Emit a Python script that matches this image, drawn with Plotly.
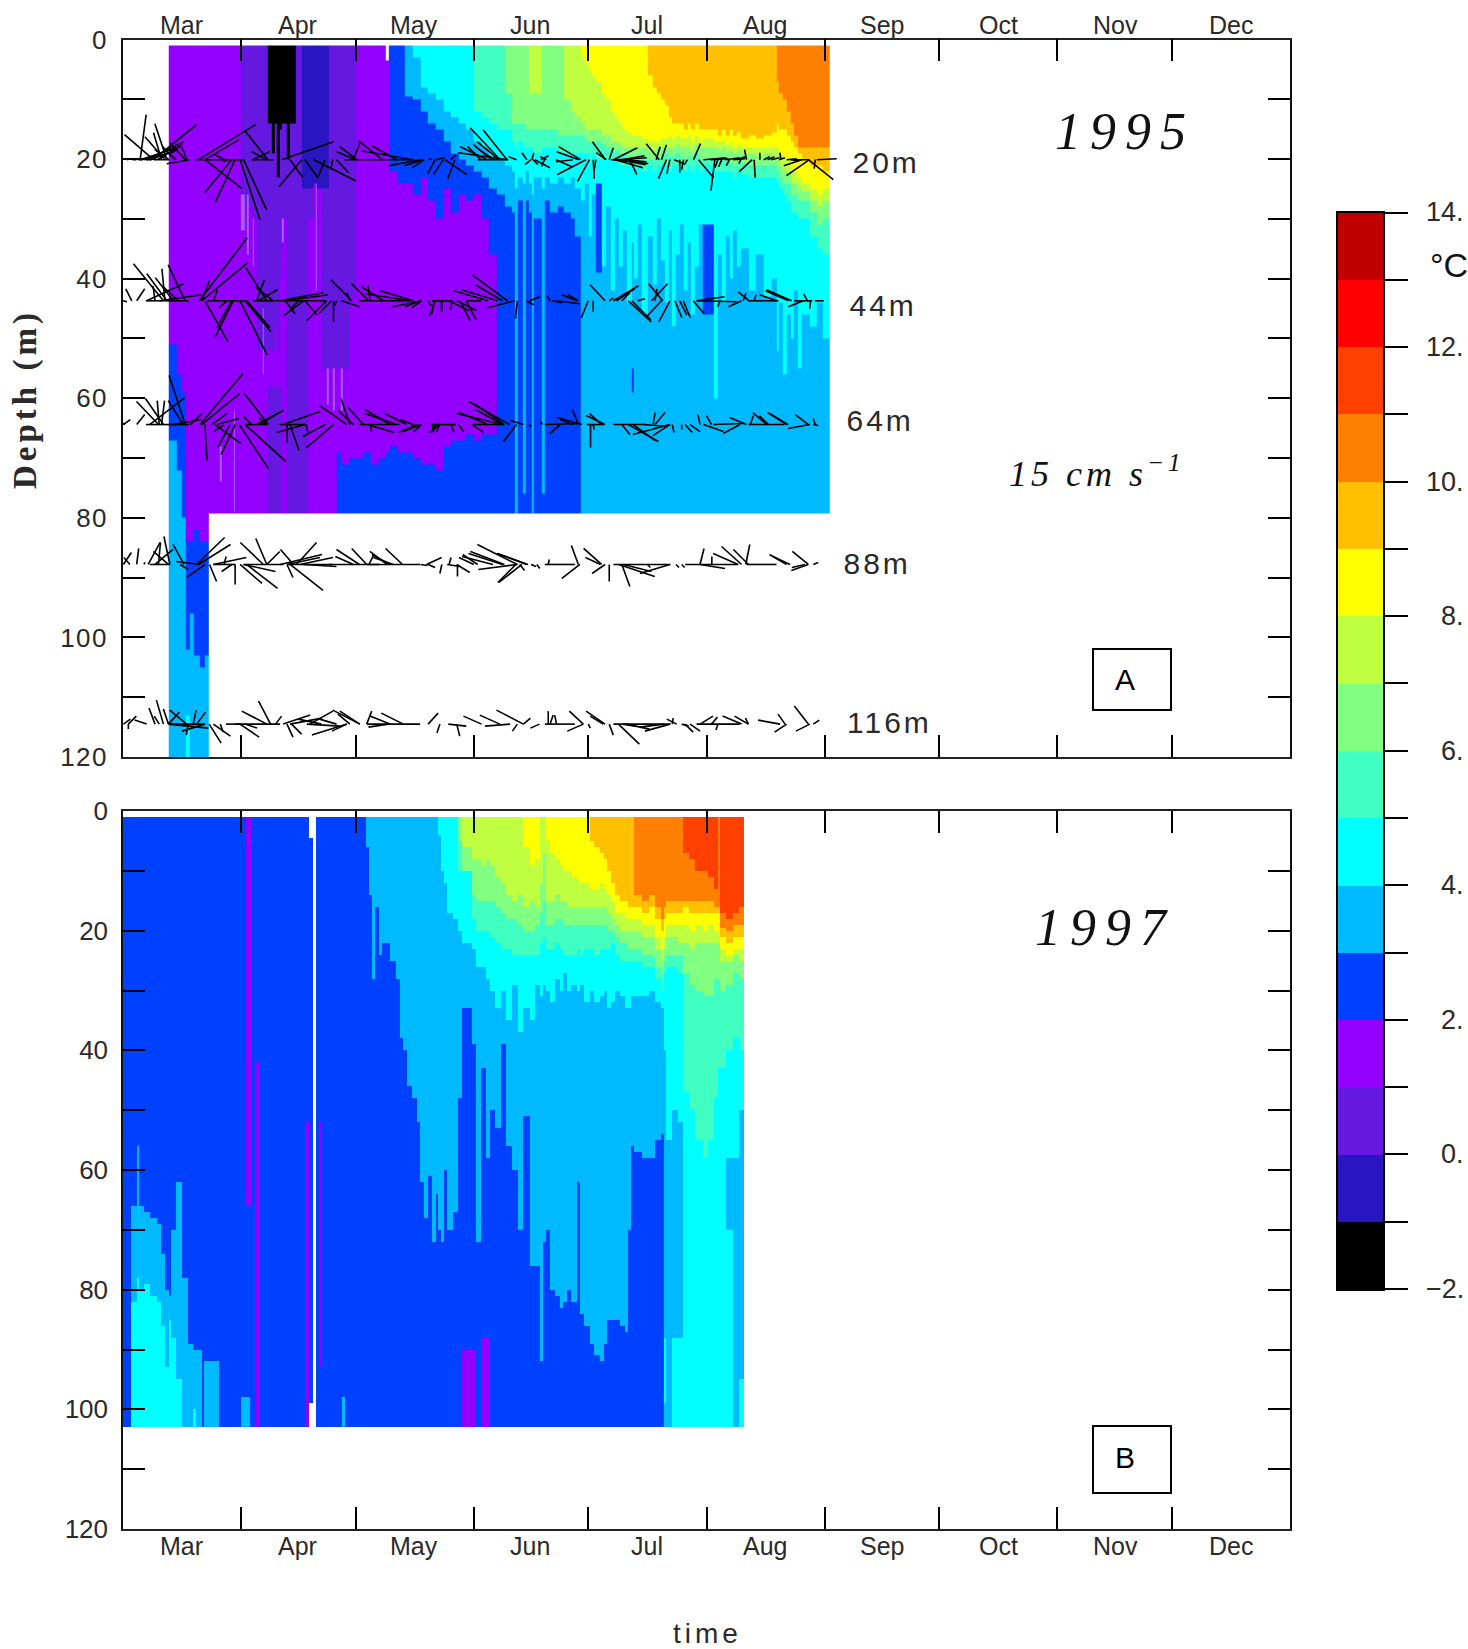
import numpy as np
import plotly.graph_objects as go

W, H = 1468, 1649

MONTHS = ["Mar", "Apr", "May", "Jun", "Jul", "Aug", "Sep", "Oct", "Nov", "Dec"]
MONTH_EDGES = [0, 31, 61, 92, 122, 153, 184, 214, 245, 275, 306]
MONTH_LABEL_DAYS = [15.45, 45.8, 76.4, 106.8, 137.4, 168.3, 199, 229.6, 260.2, 290.6]
DEPTH_MAJOR = [0, 20, 40, 60, 80, 100, 120]
DEPTH_MINOR = [10, 30, 50, 70, 90, 110]
TEMP_EDGES = list(range(-2, 15))
TEMP_TICK_LABELS = {14: "14.", 12: "12.", 10: "10.", 8: "8.", 6: "6.", 4: "4.", 2: "2.", 0: "0.", -2: "\u22122."}
CLASS_COLORS = ["#000000", "#2a16c0", "#6519e0", "#9400ff", "#0040ff", "#00baff", "#00ffff", "#40ffc0",
                "#80ff80", "#c0ff40", "#ffff00", "#ffc000", "#ff8000", "#ff4000", "#ff0000", "#c00000",
                "#a85cf5"]

# temperature columns: (start day after 1 Mar, "class:bottom depth ..."), last band without depth runs to the record's end
A_TOP, A_BOTTOM, A_END = 0.9, 79.3, 185.2
A_COLS = [
(12,"3:51 4:67 5:120"),(14,"3:56 4:72 5:120"),(15.5,"3:59 4:80 5:120"),(16.5,"3:84 4:102 5:113 6:120"),
(17.5,"3:84 4:96 5:120"),(18.5,"3:82 4:103 5:120"),(20,"3:84 4:105 5:120"),(21.5,"3:84 4:103 5:120"),
(22.6,"3"),(25.5,"3:68 f:74 3"),(25.8,"3"),(29,"3:62 f:79 3"),(29.3,"3"),
(31,"2:26 f:32 3"),(32,"2:28 3"),(32.4,"2:26 f:36 3"),(33,"2:28 3"),(34,"2:30 f:38 3"),(34.4,"2:30 3"),
(35,"2:52 3"),(36.6,"2:45 f:56 3"),(37,"2:52 3"),(38,"0:14 2:52 3:58 2"),(39,"0:19 2:52 3:58 2"),(39.7,"0:14 2:48 3:58 2"),(40.4,"0:23 2:52 3:58 2"),
(41.2,"0:15 2:40 3:58 2"),(41.7,"0:14 2:30 f:34 3"),(42.2,"0:14 2:30 3"),(43,"0:20 2"),(43.8,"0:14 2"),(45.2,"2"),
(47,"1:25 2"),(48.5,"1:25 2:30 3"),(50,"1:24 3"),(50.5,"1:24 f:42 3"),(50.9,"1:25 3"),
(52,"1:25 2:55 3"),(53.5,"1:25 2:55 f:61 3"),(53.9,"2:55 3"),(55.1,"2:55 f:62 3"),(55.5,"2:55 3"),
(56,"2:55 3:69 4"),(57.2,"2:55 f:62 3:71 4"),(57.6,"2:55 3:71 4"),(59.5,"2:43 3:70 4"),(61,"3:70 4"),(63,"3:69 4"),(65,"3:71 4"),(67,"3:70 4"),(68.9,"x:3.5 3:69 4"),(69.6,"3:69 4"),
(70,"4:22 3:68 4"),(72,"4:24 3:69 4"),(74,"5:9.5 4:24 3:69 4"),(76,"6:3 5:10 4:26 3:70 4"),(78,"6:8 5:12 4:23 3:71 4"),
(80,"6:9 5:14 4:27 3:71 4"),(82,"6:10 5:15 4:30 3:72 4"),(84,"6:12 5:17 4:25 3:68 4"),(86,"6:13 5:19 4:29 3:67 4"),
(88,"6:14 5:20 4:26 3:67 4"),(90,"6:15 5:21 4:27 3:66 4"),(92,"7:12 6:17 5:22 4:26 3:67 4"),(94,"7:13 6:18 5:23 4:30 3:66 4"),
(96,"7:14 6:20 5:25 4:36 3:66 4"),(98,"7:15 6:20 5:26 4"),(100,"8:9 7:15 6:21 5:28 4"),(102,"8:14 7:17 6:22 5:29 4"),
(102.7,"8:14 7:18 6:25 5"),(103.4,"8:14 7:17 6:23 5:27 4"),(104.9,"8:14 7:18 6:24 5:76 4"),(105.6,"8:15 7:18 6:22 5:27 4"),
(106.5,"9:9 8:15 7:18 6:24 5:29 4"),(107.1,"9:9 8:15 7:18 6:26 5"),(107.7,"9:9 8:15 7:19 6:23 5:30 4"),(109.9,"8:15 7:18 6:25 5:76 4"),
(110.5,"8:15 7:18 6:23 5:27 4"),(112,"8:15 7:18 6:24 5:29 4"),(114,"8:16 7:19 6:23 5:28 4"),(115.5,"9:10 8:16 7:19 6:24 5:29 4"),
(117.5,"9:12 8:16 7:19 6:23 5:30 4"),(118.5,"9:13 8:16 7:19 6:25 5:33 4"),(119.9,"10:3 9:14 8:16 7:19 6:27 5"),
(121,"10:4 9:15 8:17 7:19 6:24 5"),(122,"10:5 9:15 8:17 7:20 6:33 5"),(123,"10:6 9:15 8:17 7:19 6:26 5"),
(124,"10:7 9:15 8:17 7:20 6:24 4:39 5"),(125.5,"10:9 9:16 8:17.5 7:20 6:38 5"),(126.5,"10:10 9:16 8:18 7:20 6:28 5"),
(128,"10:12 9:17 8:18.5 7:20 6:42 5"),(129,"10:13 9:17 8:18.5 7:20 6:30 5"),(130,"10:14 9:17.5 8:19 7:21 6:38 5"),
(131,"10:15 9:18 8:19 7:21 6:32 5"),(132,"10:15.5 9:18 8:19.5 7:21 6:44 5"),(133.3,"10:16 9:18 8:19.5 7:21 6:34 5:55 4:59 5"),
(134,"10:16 9:18 8:20 7:21.5 6:40 5"),(135,"10:16 9:18 8:20 7:21 6:31 5"),(136,"10:16.5 9:18 8:20 7:22 6:46 5"),
(137.6,"11:6 10:17 9:18.5 8:20 7:21 6:33 5"),(139,"11:8 10:17 9:18.5 8:20 7:22 6:41 5"),(140,"11:9 10:17 9:18 8:20 7:21 6:30 5"),
(141,"11:10 10:16.5 9:18 8:19.5 7:21 6:37 5"),(142,"11:11 10:16.5 9:18 8:19 7:21 6:44 5"),(143,"11:13 10:16 9:18 8:19.5 7:22 6:32 5"),
(144,"11:14 10:16.5 9:18 8:19.5 7:21 6:48 5"),(145,"11:14 10:16 9:17.5 8:19 7:21 6:36 5"),(146,"11:14 10:16.5 9:18 8:19.5 7:21 6:31 5"),
(147,"11:15 10:16.5 9:18 8:20 7:22 6:42 5"),(148,"11:14 10:16 9:18 8:19.5 7:21 6:34 5"),(149,"11:15 10:17 9:18.5 8:20 7:22 6:46 5"),
(150,"11:14 10:16 9:17.5 8:19 7:21 6:38 5"),(151,"11:15 10:17 9:18 8:20 7:22 6:31 5"),(152,"11:15 10:16.5 9:18 8:20 7:21 6:31 4:46 5"),
(155,"11:15 10:17 9:18 8:20 7:22 6:60 5"),(156,"11:16 10:17 9:18.5 8:20 7:22 6:36 5"),(157,"11:15 10:17 9:18 8:20 7:22 6:44 5"),
(158,"11:16 10:17.5 9:18.5 8:20 7:22 6:33 5"),(159,"11:15 10:17 9:18.5 8:20.5 7:22 6:40 5"),(160,"11:16 10:18 9:19 8:21 7:23 6:32 5"),
(161,"11:15.5 10:17.5 9:18.5 8:20.5 7:22 6:38 5"),(162,"11:16.5 10:18 9:19 8:20.7 7:22.4 6:35 5"),(164,"11:16 10:18 9:19 8:21 7:23 6:42 5"),
(166,"11:16.5 10:18 9:19.5 8:21 7:23 6:36 5"),(168,"11:16 10:18 9:19 8:21 7:23 6:43 5"),(170,"11:15.5 10:18 9:19.5 8:21 7:23 6:40 5"),
(171.3,"12:7 11:14 10:18 9:20 8:22 7:24 6:52 5"),(172,"12:9 11:15 10:19 9:21 8:23 7:25 6:44 5"),(173,"12:10 11:15 10:20 9:22 8:24 7:26 6:56 5"),
(174,"12:12 11:16 10:20 9:22 8:24 7:27 6:46 5"),(175,"12:14 11:17 10:22 9:24 8:26 7:29 6:50 5"),(176,"12:16 11:18 10:22 9:24 8:26 7:29 6:42 5"),
(177,"12:18 11:19 10:23 9:25 8:27 7:30 6:55 5"),(178,"12:18 11:20 10:24 9:25.5 8:27 7:30 6:46 5"),(180,"12:18 11:21 10:25 9:27 8:29 7:33 6:48 5"),
(182,"12:18 11:21 10:26 9:28 8:31 7:35 6:44 5"),(183.5,"12:18 11:22 10:25 9:27 8:30 7:36 6:50 5"),
]
B_TOP, B_BOTTOM, B_END = 1.1, 103, 162.9
B_COLS = [
(0,"4"),(2.2,"4:66 5:82 6"),(3.6,"4:56 5:78 6"),(4.2,"4:66 5:80 6"),(5.5,"4:67 5:79 6"),(7,"4:68 5:81 6"),(8.8,"4:69 5:82 6"),
(10,"4:74 5:86 6"),(11,"4:80 5:93 6"),(12,"4:81 5:85 6"),(12.7,"4:70 5:88 6"),(14,"4:62 5:95 6"),(15.6,"4:78 5"),(17,"4:89 5"),
(18.4,"4:90 5:100 6"),(19.2,"4:90 5"),(20.7,"4"),(21.3,"4:92 5"),(25.2,"4"),(31,"4:98 5"),(32.3,"3:66 4:98 5"),(33.2,"3:66 4"),
(33.7,"4"),(34.7,"4:42 3"),(36,"4"),(47.6,"4:52 3"),(48.9,"x:4.5 4:99 x"),(49.7,"x"),(50.5,"4"),(51.4,"4:52 3:93 4"),(52,"4"),
(57.3,"4:98 5"),(58.2,"4"),(63.7,"5:6 4"),(64.5,"5:14 4"),(65.3,"5:28 4"),(66,"5:16 4"),(67,"5:24 4"),(68,"5:22 4"),(70,"5:25 4"),
(71.5,"5:28 4"),(72.5,"5:38 4"),(73.5,"5:40 4"),(74.5,"5:46 4"),(75.9,"5:48 4"),(77,"5:52 4"),(78,"5:62 4"),(79,"5:68 4"),(80,"5:61 4"),
(81,"5:72 4"),(82,"5:64 4"),(82.7,"6:4 5:70 4"),(83.5,"6:10 5:72 4"),(84.2,"6:12 5:60 4"),(85,"6:17 5:70 4"),(86.5,"6:18 5:67 4"),
(87.8,"8:5 7:10 6:20 5:48 4"),(89,"9:6 8:10 6:22 5:33 4:90 3"),(91.5,"9:8 8:14 7:18 6:23 5:39 4:90 3"),(92.6,"9:8 8:15 7:20 6:26 5:72 4"),
(94,"9:9 8:15 7:20 6:26 5:43 4:88 3"),(95.2,"9:8 8:15 7:20 6:28 5:58 4:88 3"),(96.3,"9:9 8:15 7:21 6:30 5:50 4"),(97.5,"9:11 8:16 7:22 6:33 5:53 4"),
(99,"9:12 8:17 7:23 6:30 5:39 4"),(100.5,"9:14 8:18 7:23 6:35 5:56 4"),(102,"9:15 8:18 7:24 6:29 5:60 4"),(103.5,"9:14 8:19 7:24 6:37 5:70 4"),
(105,"10:6 9:16 8:20 7:24 6:33 5:51 4"),(106.7,"10:9 9:15 8:20 7:24 6:35 5:76 4"),(108,"10:8 9:16 8:19 7:24 6:29 5:76 4"),
(109.4,"9:12 8:17 7:22 6:31 5:92 4"),(110.2,"9:7 8:15 7:21 6:29 5:72 4"),(111,"10:5 9:15 8:19 7:23 6:30 5:70 4"),(112,"10:7 9:15 8:19 7:23 6:32 5:80 4"),
(113.4,"10:8 9:14 8:18 7:22 6:28 5:81 4"),(114.5,"10:9 9:15 8:18 7:23 6:30 5:83 4"),(115.5,"10:10 9:15 8:19 7:24 6:27 5:82 4"),(116.5,"10:10 9:16 8:19 7:24 6:30 5:80 4"),
(117.5,"10:11 9:16 8:19 7:24 6:29 5:82 4"),(119,"10:11.5 9:16 8:19 7:23 6:30 5:62 4"),(119.7,"10:12 9:16 8:19 7:24 6:29 5:84 4"),(121,"10:12 9:16 8:19 7:23 6:32 5:86 4"),
(122.5,"11:5 10:13 9:16 8:19 7:23 6:30 5:89 4"),(123.5,"11:6 10:13 9:16 8:19 7:24 6:32 5:91 4"),(125,"11:7 10:12 9:16 8:19 7:23 6:31 5:92 4"),(126,"11:8 10:13 9:16 8:19 7:23 6:30 5:89 4"),
(127,"11:10 10:14 9:17 8:20 7:23 6:33 5:85 4"),(128,"11:12 10:15 9:18 8:20 7:22 6:32 5:85 4"),(129,"11:14 10:17 9:19 8:21 7:24 6:30 5:85 4"),(130.4,"11:15 10:17 9:20 8:22 7:25 6:31 5:86 4"),
(131.5,"11:15 10:18 9:20 8:22 7:25 6:33 5:87 4"),(132.5,"11:16 10:18 9:20 8:23 7:25 6:33 5:70 4"),(133.3,"11:16 10:18 9:20 8:23 7:25 6:31 5:56 4"),
(134,"12:14 11:16 10:18 9:20 8:23 7:25 6:31 5:57 4"),(136,"12:15 11:17 10:19 9:21 8:24 7:26 6:31 5:58 4"),(138,"12:14 11:16 10:19 9:21 8:24 7:26 6:30 5:58 4"),
(139.5,"12:16 11:18 10:21 9:23 8:26 7:28 6:32 5:55 4"),(141,"12:18 11:20 10:23 9:25 8:27 7:30 6:33 5:54 4"),(141.8,"12:16 11:18 10:21 9:23 8:25 7:27 6:40 5:88 6:99 5"),
(142.5,"12:15 11:17 10:19 9:21 8:24 7:26 6:55 5"),(144,"12:15 11:17 10:19 9:21 8:24 7:26 6:50 5:88 6"),(145.5,"12:15 11:17 10:19 9:22 8:24 7:27 6:52 5:88 6"),
(146.9,"13:7 12:15 11:16 10:19 9:22 8:27 7:47 6"),(148.5,"13:8 12:15 11:17 10:20 9:23 8:29 7:50 6"),(150,"13:10 12:15 11:17 10:19 9:22 8:30 7:55 6"),
(152,"13:10 12:15 11:17 10:20 9:22 8:31 7:58 6"),(153.5,"13:11 12:15 11:17 10:19 9:22 8:31 7:55 6"),(155,"13:13 12:16 11:17 10:20 9:22 8:28 7:48 6"),
(156,"12:16 11:17 10:20 9:22 8:28 7:43 6"),(156.6,"13:17 12:19.5 11:21 10:23 9:25 8:30 7:43 6"),(158,"13:18 12:20 11:22 10:24 9:25 8:29 7:40 6:58 5:70 6"),
(160,"13:17 12:19 11:21 10:23 9:24 8:27 7:38 6:58 5"),(161.5,"13:16 12:19 11:21 10:23 9:25 8:28 7:40 6:50 5:95 6"),
]

# current sticks at each meter: (day after 1 Mar, u, v), speed units
STICK_DEPTHS = {"20m": 20.1, "44m": 43.7, "64m": 64.4, "88m": 87.8, "116m": 114.5}
LABEL_PX = {"20m": (886, 163), "44m": (883, 305), "64m": (880, 421), "88m": (877, 563), "116m": (889, 722)}
STICKS_20 = [
(1,4,1),(2.5,4,0),(4,5,0),(6,6,0),(8,8,0),(10,8,0),(4.5,6,45),(8,-29,25),(11.5,-12,36),(10.1,-8,27),(11,-20,23),(8,43,35),(6.2,37,18),(4.5,40,13),
(16.3,-15,17),(16.7,-5,13),(17.5,-23,-4),(13.6,-12,13),(9,25,15),(7,28,10),(5.5,30,8),(12,-14,10),(14,-10,8),(19.8,57,35),(21.5,34,20),(26.7,-10,5),
(27.5,-5,-2),(21.5,37,-29),(28.5,-27,-33),(29.4,-20,-43),(30.7,20,-60),(31.6,23,-50),(38,-23,29),(37.7,-15,8),(34,17,8),(19,48,0),(33.8,22,0),(41.6,52,18),
(46.9,-23,-27),(43.8,13,-18),(47.7,13,-18),(53,-7,-17),(50,42,-21),(56,12,-13),(55,-2,-10),(68,-24,19),(61,-19,8),(61.3,-17,13),(60.4,7,18),(71.8,-25,14),
(76,-52,9),(78,-32,-6),(78.5,-18,-6),(79,-12,-8),(58,70,0),(81.8,-7,-14),(84,-10,-15),(82,9,2),(80,4,1),(87,-7,-19),(84.4,22,-15),(86,5,5),(98.9,-30,32),
(100.7,-24,30),(98.6,-22,18),(95.5,-27,13),(101,-50,7),(93.8,-13,13),(96.6,-18,15),(97.5,-16,10),(93,30,0),(103.2,-8,3),(105.9,-5,7),(107,-6,-5),(107.2,2,7),
(107.5,5,-5),(108,15,-8),(110.5,-3,-7),(109.5,8,4),(111,-6,3),(120,-22,13),(119.5,-22,8),(118,-17,-2),(113.5,16,-7),(121.4,-29,-15),(122.3,-12,-22),(123.3,1,-19),
(124,-2,-12),(126.5,-13,18),(126.7,-10,7),(127.5,4,12),(128.6,24,12),(128,33,-3),(129,28,-8),(129.5,30,2),(130,27,-5),(131,22,4),(132,20,-2),(133,18,-4),(132.9,7,-15),
(140.6,-13,16),(139.8,4,13),(141.2,5,15),(142.5,-8,-19),(143.4,-3,-14),(146,0,-13),(147,-2,-10),(144.5,10,-4),(148,-3,-5),(149.6,7,16),(155.2,-4,-31),(150.9,15,-18),
(152.2,23,2),(154,18,1),(156,-3,-8),(157,-3,-7),(158,14,2),(159,-3,-6),(160,12,1),(161,8,3),(162,-2,-4),(163.5,-2,10),(165,-13,-12),(165.5,1,-18),(167,0,7),(168,6,3),
(169,7,3),(170,8,2),(172,6,2),(172.5,-1,7),(174,10,1),(175,8,-1),(176,15,0),(178,-18,-6),(180,-23,-16),(179.7,25,-20),(181.9,20,1),(181.5,-1,-9),
]
STICKS_44 = [
(0,4,-1),(2.3,-6,12),(3.6,8,12),(10.6,-30,37),(11.5,-20,27),(11,-3,32),(13.2,-18,23),(16.3,-17,36),(8.4,-2,15),(6.2,37,17),(9.7,42,6),(14.5,-15,14),(6,30,0),(12,20,0),
(20,48,63),(20.6,46,38),(20.6,8,20),(23.7,4,11),(22,40,0),(21.5,23,-41),(28.9,-18,-36),(28.5,-15,-27),(27.2,-8,-7),(30.7,27,-54),(32,26,-31),(32.5,23,-27),(37.7,-21,33),
(35,8,21),(35.5,19,11),(39.4,-18,14),(34,22,0),(41.2,43,8),(42.5,43,6),(47.3,-20,-15),(42.5,10,-13),(46,-7,-7),(53.4,-20,-20),(47.7,12,-14),(54.7,-13,-13),(55.2,0,-21),
(56,-2,-5),(40,50,0),(60,-21,21),(64.4,-17,17),(59.5,-3,8),(57.3,18,-6),(68.3,-22,14),(64.8,-2,15),(76.1,-33,10),(75.3,-45,7),(78.3,-29,-6),(77.9,-15,-6),(78.3,-10,-7),
(62,50,0),(81.8,-5,-15),(80,3,-5),(83.5,0,-11),(86.4,-2,-9),(88.4,10,-20),(87.5,20,-10),(100.8,-35,26),(99.5,-27,16),(98.2,-36,11),(95.7,-34,10),(102.7,-27,-7),(90,10,-19),
(85.5,20,-10),(81.7,-3,-13),(83.6,0,-11),(81,20,0),(90,15,0),(103.4,-2,-18),(105.8,7,-4),(106.7,10,4),(112,-3,5),(112.5,10,-2),(119,-15,6),(119.3,-10,6),(113.7,23,-3),
(126.4,-15,16),(122,-7,-17),(123.3,0,-11),(127.5,4,3),(128.6,25,15),(129.4,18,12),(130.8,8,8),(141.5,-14,17),(138.6,16,17),(139.5,2,12),(133.4,19,-19),(132.5,23,-21),
(135,7,2),(143.4,-11,-21),(141.2,-15,-16),(144.7,7,-17),(146.9,7,-17),(146,7,-14),(149.5,11,-13),(150.4,28,4),(150.4,40,-1),(164.2,-11,9),(162.6,3,8),(162.2,-13,-6),
(156.5,-2,-6),(165.5,2,6),(174.5,-23,10),(175.3,-25,11),(171.4,-17,6),(178.4,-15,-6),(179.5,-4,7),(180.3,-1,-8),(181.4,9,0),(164,30,0),(176,18,0),
]
STICKS_64 = [
(0.1,7,5),(0.5,-5,3),(3.6,8,10),(9.3,-22,23),(10.6,-18,26),(9.5,-2,24),(10.1,3,24),(16.3,-16,49),(7,35,27),(15.8,-15,24),(13.2,28,5),(6,30,0),(12,20,0),(20.2,43,51),
(20.6,38,31),(17.6,12,11),(23.3,15,11),(24.6,22,6),(21.5,2,-36),(24.1,26,-19),(28,-12,-23),(29.4,-14,-30),(26.5,-10,-7),(30.5,29,-44),(32,41,-37),(38.1,-24,31),(33.7,-8,8),
(35,27,14),(36,17,11),(37.5,-7,7),(32,22,0),(42,37,13),(47.7,-28,-8),(43,0,-18),(43.8,9,-26),(53,-22,-12),(55.2,-27,-23),(48,2,-8),(58.7,-27,19),(59.5,-9,26),(60.4,-15,14),
(63,-15,17),(70,-25,15),(71.8,-32,11),(74.4,-22,11),(65,0,-7),(64,27,-8),(77,-18,-8),(78.3,-8,-7),(76.1,-13,5),(41,26,0),(62,40,0),(81,2,-8),(82,-3,-5),(83,-3,-7),(86,3,-8),
(81,24,0),(101.4,-41,23),(95.7,-29,12),(99.5,-46,11),(99.5,-27,15),(100,-29,20),(91.5,12,-8),(83,-10,-8),(88,5,-7),(78,-17,-7),(92,30,0),(103.2,-13,-17),(105,-13,4),(106.5,2,-2),
(110,-2,3),(114.6,-10,-9),(120.3,-25,7),(119.4,-6,15),(110.6,35,1),(118,-13,5),(126.4,-19,9),(125.5,-12,11),(122.6,0,-23),(123.3,1,-5),(121.6,17,0),(128.6,33,0),(130.8,8,-10),
(143.4,-37,-10),(143.4,-17,-11),(132.5,30,-17),(133.8,22,-16),(136.5,23,-2),(139.5,10,12),(139,2,12),(144,2,-8),(146.5,0,-5),(147.4,7,-8),(148.7,10,-7),(151.3,-2,10),
(154.3,-5,9),(161.8,-17,-9),(152.2,20,-7),(154.8,30,1),(163.5,-17,7),(164.5,3,9),(168.8,-14,12),(169.2,-9,9),(174,-19,12),(174.4,-18,11),(179.7,-13,10),(180.1,-22,-4),
(181,5,-1),(181.5,-2,6),(164,36,0),
]
STICKS_88 = [
(0.1,8,12),(1.8,-6,7),(3.6,2,16),(5.5,1,2),(6.6,12,22),(9.3,2,22),(12.3,-6,28),(11.9,-15,13),(8.4,18,15),(16,-11,20),(15,8,-5),(7,20,0),(20,-23,3),(19.3,28,27),(19.8,32,20),
(21.5,-18,-13),(22.7,7,-17),(23.7,33,7),(26.5,2,8),(29.4,0,-20),(28.5,-10,-7),(23.7,22,0),(36.8,-23,22),(37.7,-11,26),(30.7,22,-19),(32.4,31,-24),(31.6,32,-7),(37.7,13,13),
(44.7,-13,15),(45.5,20,22),(41.2,42,10),(43,33,7),(43,6,-13),(43.8,33,-26),(46.4,33,7),(62,-23,15),(60.4,-18,8),(63.9,-15,16),(47.3,33,-2),(31.6,40,0),(43,45,0),(54,50,0),
(64.5,5,10),(69.2,-17,13),(70,-18,10),(70.9,-20,7),(73.3,-17,16),(64,53,0),(78,7,-1),(79.6,15,7),(80,7,-3),(83.6,-2,-9),(85,13,-2),(85.5,2,7),(87.7,0,-12),(87.5,13,-8),
(92,-15,7),(93,-15,10),(103.4,-40,20),(100,-34,13),(97,-31,8),(99.5,-34,11),(105.8,-29,11),(103.4,-39,-5),(104.6,-23,-18),(103,-18,-18),(106.2,-31,11),(104,5,-6),(107,5,-2),
(108.5,3,-4),(110.6,30,0),(111.5,1,5),(119.8,-18,-14),(119.4,-7,19),(125.5,-18,16),(125.2,-15,7),(126.4,-13,-9),(127.5,0,-17),(128.6,57,0),(130.8,8,-22),(130,36,-12),(131.2,28,-7),
(143.4,-30,-9),(137.5,3,-3),(145,3,-3),(146.5,3,-3),(147.4,53,0),(151.3,4,16),(162.2,-20,18),(164,-15,15),(161.3,-25,11),(163.3,4,20),(154.4,0,8),(151.3,25,-4),(163.5,30,0),
(174,-17,10),(174.9,-17,8),(179.7,-16,13),(179.7,-17,-6),(178.8,-13,-3),(181,5,2),
]
STICKS_116 = [
(0.1,7,5),(1.4,8,8),(1.4,0,-5),(6.2,-12,4),(8.4,-6,16),(10.6,-7,24),(9.5,-5,8),(11.9,-5,15),(11.9,11,12),(16.7,-17,14),(18.4,3,14),(19.3,9,12),(11.9,40,-4),(17.1,-2,-11),
(21.5,-23,-7),(12.3,35,0),(22.6,12,-19),(23.7,17,-12),(25.5,3,-8),(27,15,0),(30.7,19,-13),(29.4,45,0),(37.7,-25,13),(38.7,-12,23),(40,6,8),(32,12,-4),(42,27,9),(43,6,-13),
(44.2,10,-10),(43.8,32,6),(49,23,13),(62.1,-27,14),(59.5,-12,10),(58.7,-35,-11),(58.7,-15,-7),(48.2,33,-2),(56,-17,5),(52,-23,5),(62.1,-20,13),(63.9,5,13),(73.5,-22,11),
(70,-20,8),(69.6,-20,-3),(64,53,0),(80,10,11),(83.1,-3,-9),(85.3,18,-2),(87.5,3,-12),(94,-18,8),(98.8,-20,9),(105,-27,14),(101.5,-25,-2),(103.4,-5,-7),(109.2,-9,-4),(105,7,6),
(110.6,30,0),(111.5,0,13),(113.7,-2,9),(112,3,9),(120.7,-16,-7),(120.7,-14,13),(126.4,-19,13),(125.9,-13,8),(122,2,-4),(127.5,4,-11),(129.9,21,-20),(128.6,57,0),(131,13,-2),
(143.4,-25,-7),(141.7,-23,-3),(132,23,-5),(145.2,-10,5),(144,1,6),(146.5,7,-2),(147.4,8,-8),(148.7,10,-7),(150.4,43,0),(151.3,13,8),(154.3,6,7),(162.2,-19,8),(164,-14,8),(156,-2,-6),
(164,-3,6),(172.3,-22,4),(174,-12,-8),(173.6,-7,10),(179.7,-14,18),(180.1,-14,-7),(181,6,4),
]
STICK_SERIES = {"20m": STICKS_20, "44m": STICKS_44, "64m": STICKS_64, "88m": STICKS_88, "116m": STICKS_116}

PX_PER_DAY = (1290 - 123) / 306
PX_PER_M = (757 - 39.5) / 120
GRID = np.arange(0, 120.25, 0.25)


def px_x(p):
    return p / W


def px_y(p):
    return 1 - p / H


def grid_columns(cols, top, bottom):
    out = np.full((len(GRID) - 1, len(cols)), np.nan)
    mids = (GRID[:-1] + GRID[1:]) / 2
    for j, (_, spec) in enumerate(cols):
        start = top
        for tok in spec.split():
            name, _, end = tok.partition(":")
            end = float(end) if end else bottom
            if name != "x":
                cls = 16 if name == "f" else int(name)
                out[(mids >= start) & (mids < end), j] = cls
            start = end
    return [[None if np.isnan(v) else int(v) for v in row] for row in out]


steps = []
for i, c in enumerate(CLASS_COLORS):
    steps += [[i / len(CLASS_COLORS), c], [(i + 1) / len(CLASS_COLORS), c]]
zr = dict(zmin=-0.5, zmax=len(CLASS_COLORS) - 0.5, colorscale=steps, showscale=False, hoverinfo="skip")

fig = go.Figure()
fig.add_trace(go.Heatmap(x=[c[0] for c in A_COLS] + [A_END], y=GRID, z=grid_columns(A_COLS, A_TOP, A_BOTTOM), xaxis="x", yaxis="y", **zr))
fig.add_trace(go.Heatmap(x=[c[0] for c in B_COLS] + [B_END], y=GRID, z=grid_columns(B_COLS, B_TOP, B_BOTTOM), xaxis="x2", yaxis="y2", **zr))
fig.add_trace(go.Heatmap(x=[0, 1], y=TEMP_EDGES, z=[[k] for k in range(16)], xaxis="x3", yaxis="y3", **zr))

for name, sticks in STICK_SERIES.items():
    xs, ys = [], []
    base = STICK_DEPTHS[name]
    for d, u, v in sticks:
        xs += [d, d + u / PX_PER_DAY, None]
        ys += [base, base - v / PX_PER_M, None]
    fig.add_trace(go.Scatter(x=xs, y=ys, mode="lines", line=dict(color="black", width=1.6), hoverinfo="skip",
                             showlegend=False, name=name, xaxis="x", yaxis="y"))

FONT = "Liberation Sans"
SERIF = "Liberation Serif"
INK = "#2a2a2a"


def xaxis(dom_anchor):
    return dict(domain=[px_x(123), px_x(1290)], range=[0, 306], anchor=dom_anchor, tickvals=MONTH_EDGES, showticklabels=False,
                ticks="inside", ticklen=22, tickwidth=1.5, tickcolor="black", showgrid=False, zeroline=False,
                showline=True, linewidth=1.5, linecolor="#222", mirror="ticks")


def yaxis(top, bottom, anchor):
    return dict(domain=[px_y(bottom), px_y(top)], range=[120, 0], anchor=anchor, tickvals=DEPTH_MAJOR,
                ticks="inside", ticklen=22, tickwidth=2, tickcolor="black", showgrid=False, zeroline=False,
                minor=dict(tickvals=DEPTH_MINOR, ticks="inside", ticklen=22, tickwidth=2, tickcolor="black", showgrid=False),
                showline=True, linewidth=1.5, linecolor="#111", mirror="ticks", ticklabelstandoff=8,
                tickfont=dict(family=FONT, size=26, color=INK))


ann = []


def label(px, py, text, size, family=FONT, **kw):
    color = kw.pop("color", INK)
    args = dict(xanchor="center", yanchor="middle")
    args.update(kw)
    ann.append(dict(x=px_x(px), y=px_y(py), xref="paper", yref="paper", text=text, showarrow=False,
                    font=dict(family=family, size=size, color=color), **args))


for name, (lx, ly) in LABEL_PX.items():
    label(lx, ly, name, 30)
for m, d in zip(MONTHS, MONTH_LABEL_DAYS):
    for py in (25, 1546):
        label(123 + d * PX_PER_DAY, py, m, 25)
for t, text in TEMP_TICK_LABELS.items():
    ann.append(dict(x=1466 / W, y=t, xref="paper", yref="y3", text=text, showarrow=False, xanchor="right", yanchor="middle",
                    font=dict(family=FONT, size=27, color=INK)))
label(1428, 265, "\u00b0C", 34, xanchor="left", color="#111")
label(25, 399, "<b>Depth (m)</b>", 33, SERIF, textangle=-90)
label(707, 1633, "time", 28)
label(1125, 132, "<i>1995</i>", 52, SERIF, color="#111")
label(1106, 927, "<i>1997</i>", 52, SERIF, color="#111")
label(1097, 471, "<i>15 cm s<sup>\u22121</sup></i>", 36, SERIF, color="#111")
label(1125, 679, "A", 30, color="#000")
label(1125, 1457, "B", 30, color="#000")

shapes = [dict(type="rect", xref="paper", yref="paper", x0=px_x(1093), x1=px_x(1171), y0=px_y(649), y1=px_y(710), line=dict(color="black", width=2)),
          dict(type="rect", xref="paper", yref="paper", x0=px_x(1093), x1=px_x(1171), y0=px_y(1426), y1=px_y(1493), line=dict(color="black", width=2))]

fig.update_layout(
    width=W, height=H, margin=dict(l=0, r=0, t=0, b=0, autoexpand=False), paper_bgcolor="white", plot_bgcolor="white", showlegend=False,
    xaxis=xaxis("y"), yaxis=yaxis(39.5, 757, "x"),
    xaxis2=xaxis("y2"), yaxis2=yaxis(811, 1529, "x2"),
    xaxis3=dict(domain=[px_x(1338), px_x(1383)], range=[0, 1], anchor="y3", showticklabels=False, ticks="", showgrid=False,
                zeroline=False, showline=True, linewidth=1.5, linecolor="black", mirror=True),
    yaxis3=dict(domain=[px_y(1289), px_y(212.5)], range=[-2, 14], anchor="x3", side="right", tickvals=TEMP_EDGES, ticks="outside",
                ticklen=23, tickwidth=1.5, tickcolor="black", showticklabels=False, showgrid=False, zeroline=False,
                showline=True, linewidth=1.5, linecolor="black", mirror=True),
    annotations=ann, shapes=shapes,
)

post = """
document.body.style.margin = '0';
document.querySelectorAll('.annotation-text').forEach(function (t) {
  var s = t.textContent;
  if (s === '1995' || s === '1997') { t.style.letterSpacing = '9px'; }
  else if (s.indexOf('15 cm') === 0) { t.style.letterSpacing = '4px'; }
  else if (/^[0-9]+m$/.test(s)) { t.style.letterSpacing = '3px'; }
  else if (s === 'time') { t.style.letterSpacing = '4px'; }
  else if (s.indexOf('Depth') === 0) { t.style.letterSpacing = '4px'; }
});
document.querySelectorAll('.ytick text').forEach(function (t) { t.style.letterSpacing = '1.5px'; });
"""
fig.write_html("out.html", post_script=post, config={"displayModeBar": False})
